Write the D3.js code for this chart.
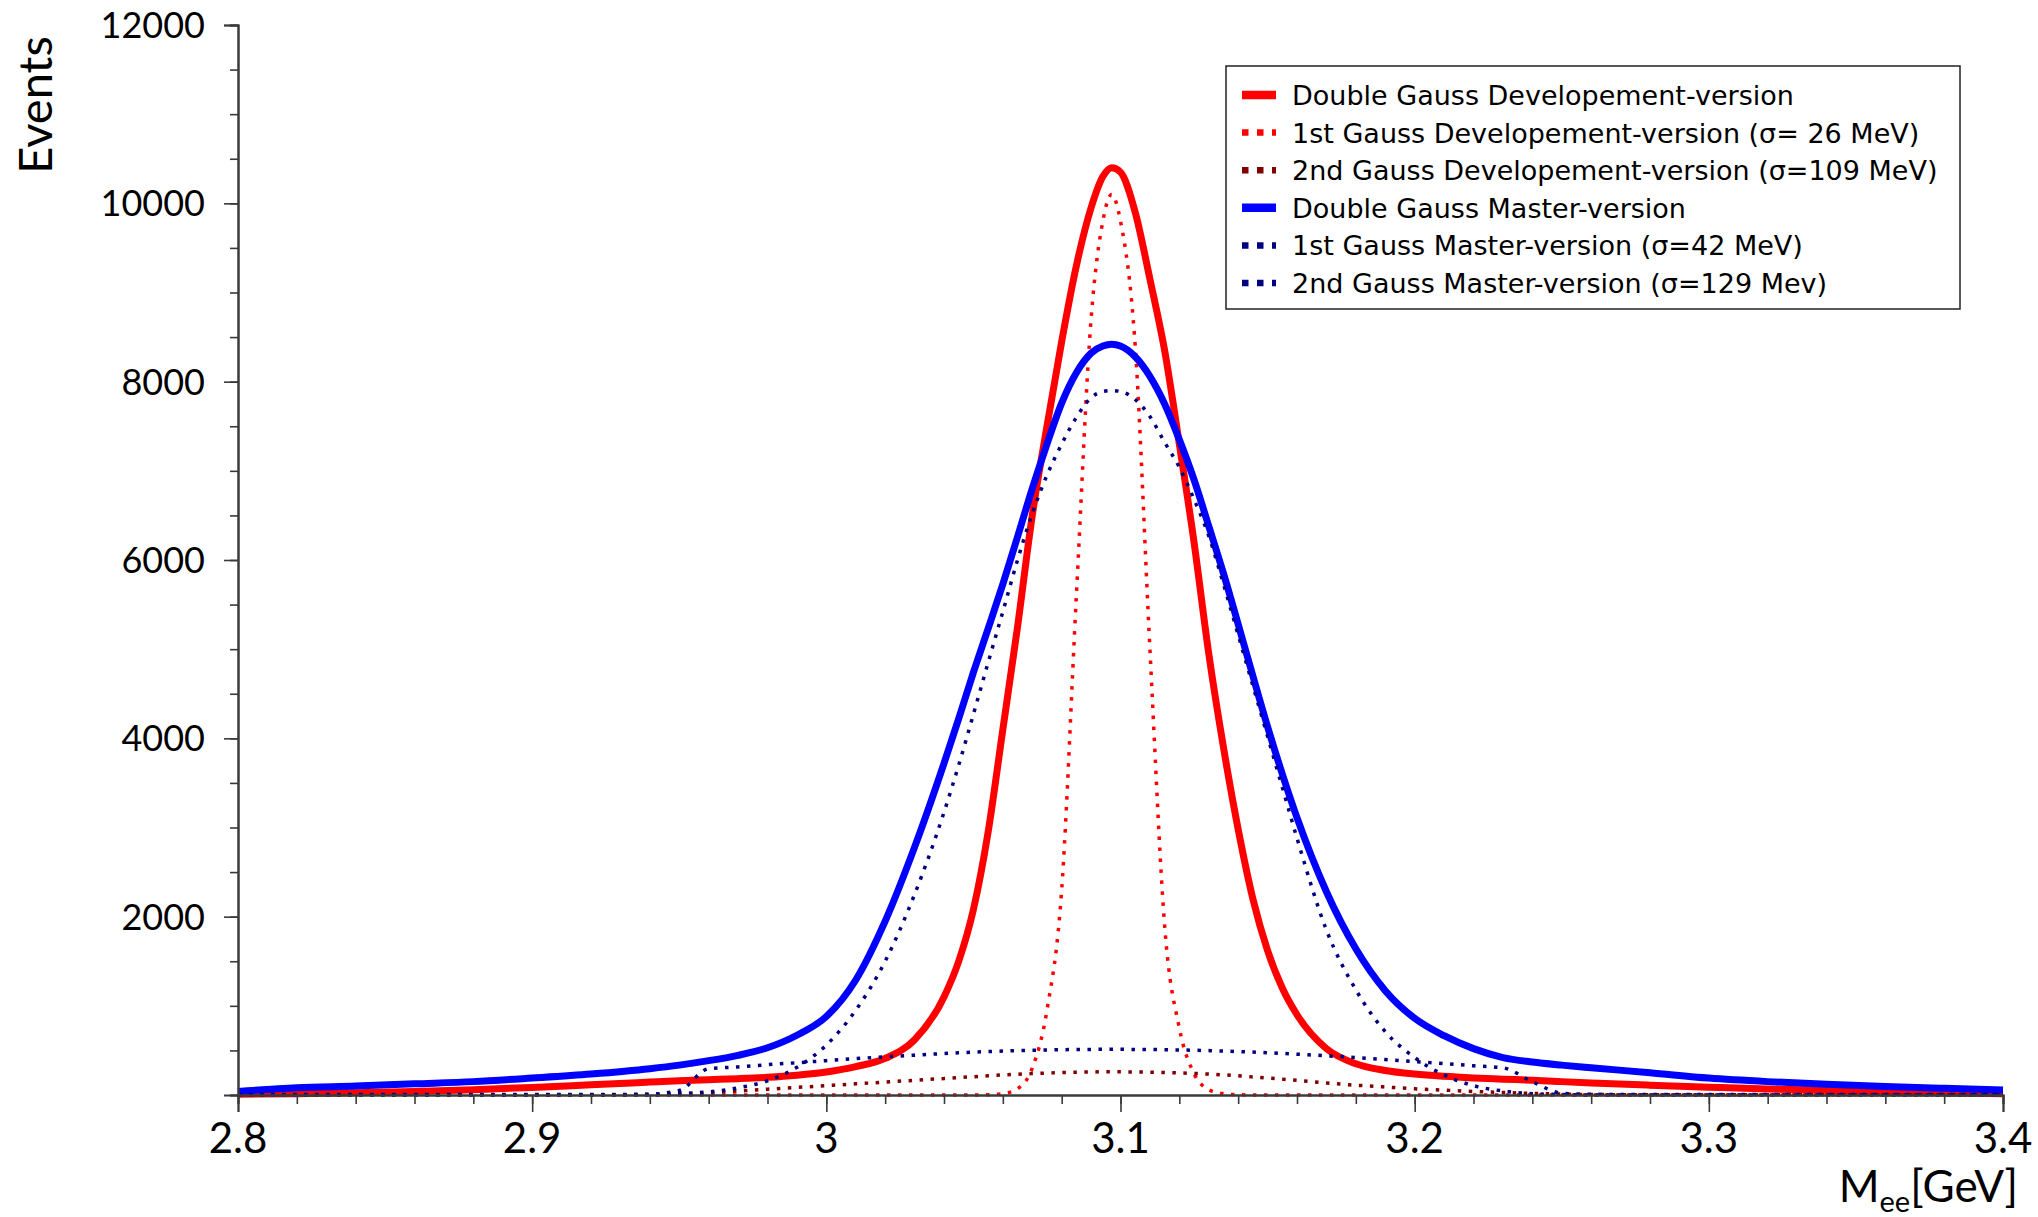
<!DOCTYPE html>
<html>
<head>
<meta charset="utf-8">
<script src="https://cdnjs.cloudflare.com/ajax/libs/d3/7.8.5/d3.min.js"></script>
<style>
  body { margin: 0; background: #fff; }
  svg { display: block; }
  .tick-label { font-family: Lato, "Open Sans", sans-serif; fill: #000; }
  .legend-text { font-family: "DejaVu Sans", Verdana, sans-serif; fill: #000; }
</style>
</head>
<body>
<svg id="chart"></svg>
<script>
// data (M_ee in GeV, events)
var mass = [2.80, 2.82, 2.84, 2.86, 2.88, 2.90, 2.92, 2.94, 2.95, 2.96, 2.97, 2.98, 2.99,
  3.00, 3.01, 3.02, 3.03, 3.04, 3.045, 3.05, 3.055, 3.06, 3.065, 3.07, 3.075, 3.08, 3.085, 3.09,
  3.094, 3.097, 3.10, 3.105, 3.11, 3.115, 3.12, 3.125, 3.13, 3.135, 3.14, 3.145, 3.15, 3.155, 3.16,
  3.17, 3.18, 3.19, 3.20, 3.21, 3.22, 3.23, 3.24, 3.25, 3.26, 3.28, 3.30, 3.32, 3.34, 3.36, 3.38, 3.40];

var doubleDev = [8, 15, 25, 40, 60, 85, 115, 145, 160, 172, 183, 198, 222,
  258, 318, 410, 620, 1100, 1500, 2080, 2950, 4100, 5250, 6500, 7500, 8450, 9300, 9950,
  10300, 10400, 10350, 9900, 9150, 8350, 7300, 6200, 4950, 3900, 2980, 2200, 1620, 1200, 900,
  520, 350, 275, 235, 210, 192, 178, 165, 150, 135, 110, 88, 68, 52, 38, 26, 15];

var gauss1Dev = [0, 0, 0, 0, 0, 0, 0, 0, 0, 0, 0, 0, 0,
  0, 0, 0, 0, 0, 0, 0, 3, 15, 70, 300, 950, 2300, 5600, 8700,
  9800, 10100, 9800, 8400, 5000, 1900, 750, 240, 60, 15, 3, 0, 0, 0, 0,
  0, 0, 0, 0, 0, 0, 0, 0, 0, 0, 0, 0, 0, 0, 0, 0, 0];

var gauss2Dev = [3, 3, 3, 3, 3, 3, 3, 3, 10, 25, 45, 65, 85,
  105, 125, 145, 165, 185, 195, 205, 215, 225, 233, 240, 246, 252, 255, 258,
  260, 260, 260, 258, 256, 252, 248, 242, 235, 226, 215, 203, 190, 178, 165,
  135, 110, 90, 70, 55, 40, 28, 18, 10, 5, 3, 3, 3, 3, 3, 3, 3];

var doubleMaster = [40, 80, 100, 125, 150, 190, 235, 295, 335, 385, 445, 530, 670,
  880, 1290, 1950, 2780, 3720, 4220, 4740, 5230, 5730, 6260, 6800, 7300, 7760, 8100, 8320,
  8400, 8420, 8400, 8280, 8060, 7750, 7350, 6900, 6380, 5850, 5280, 4700, 4130, 3600, 3110,
  2280, 1640, 1170, 860, 665, 520, 420, 370, 335, 305, 250, 190, 150, 120, 95, 75, 56];

var gauss1Master = [0, 0, 0, 0, 0, 0, 1, 6, 15, 35, 80, 160, 310,
  560, 950, 1500, 2250, 3170, 3700, 4270, 4850, 5420, 6000, 6520, 6950, 7300, 7600, 7820,
  7890, 7900, 7890, 7800, 7610, 7320, 7040, 6680, 6270, 5730, 5160, 4590, 4020, 3450, 2880,
  1850, 1180, 710, 420, 225, 105, 45, 15, 5, 0, 0, 0, 0, 0, 0, 0, 0];

var gauss2Master = [5, 5, 5, 5, 5, 5, 5, 10, 50, 295, 315, 340, 362,
  385, 408, 428, 447, 465, 473, 480, 487, 493, 498, 502, 505, 508, 510, 511,
  512, 512, 512, 511, 510, 508, 505, 502, 498, 493, 487, 481, 474, 466, 458,
  440, 420, 398, 375, 352, 328, 305, 150, 20, 8, 5, 5, 5, 5, 5, 5, 5];

var legendLabels = [
  "Double Gauss Developement-version",
  "1st Gauss Developement-version (\u03c3= 26 MeV)",
  "2nd Gauss Developement-version (\u03c3=109 MeV)",
  "Double Gauss Master-version",
  "1st Gauss Master-version (\u03c3=42 MeV)",
  "2nd Gauss Master-version (\u03c3=129 Mev)"
];

var xTickLabels = [2.8, 2.9, 3, 3.1, 3.2, 3.3, 3.4];
var yTickLabels = [2000, 4000, 6000, 8000, 10000, 12000];


//layout conf.
var svgWidth = 2038,
    svgHeight = 1217,
    plot = {left: 238, right: 2003, top: 25, bottom: 1095};

var seriesColors = ["#ff0000", "#ff0000", "#800000", "#0000ff", "#000080", "#000080"];
var seriesDotted = [false, true, true, false, true, true];
var seriesValues = [doubleDev, gauss1Dev, gauss2Dev, doubleMaster, gauss1Master, gauss2Master];

var x = d3.scaleLinear().domain([2.8, 3.4]).range([plot.left, plot.right]);
var y = d3.scaleLinear().domain([0, 12000]).range([plot.bottom, plot.top]);

var svg = d3.select("#chart")
    .attr("width", svgWidth)
    .attr("height", svgHeight);

drawCurves();
drawAxes();
drawLegend();

function drawCurves() {
    var line = d3.line()
        .x(function(d){ return x(d[0]); })
        .y(function(d){ return y(d[1]); })
        .curve(d3.curveMonotoneX);

    var table = seriesValues.map(function(vals, i) {
        return {
            points: mass.map(function(m, j){ return [m, vals[j]]; }),
            color: seriesColors[i],
            dotted: seriesDotted[i]
        };
    });

    svg.append("g")
        .classed("curves", true)
        .selectAll("path")
        .data(table)
        .enter()
        .append("path")
        .attr("d", function(d){ return line(d.points); })
        .attr("fill", "none")
        .attr("stroke", function(d){ return d.color; })
        .attr("stroke-width", function(d){ return d.dotted ? 3.5 : 7; })
        .attr("stroke-dasharray", function(d){ return d.dotted ? "3.5,7.5" : null; })
        .attr("stroke-linejoin", "round");
}

function drawAxes() {
    var axisColor = "#3a3a3a";

    // minor ticks
    var xMinor = d3.range(0, 31).map(function(i){ return 2.8 + i*0.02; });
    var yMinor = d3.range(0, 25).map(function(i){ return i*500; });

    var xAxisMinor = svg.append("g")
        .attr("transform", "translate(0," + plot.bottom + ")")
        .call(d3.axisBottom(x).tickValues(xMinor).tickSize(9).tickFormat(""));
    var xAxisMajor = svg.append("g")
        .attr("transform", "translate(0," + plot.bottom + ")")
        .call(d3.axisBottom(x).tickValues(xTickLabels).tickSize(17).tickFormat(""));
    var yAxisMinor = svg.append("g")
        .attr("transform", "translate(" + plot.left + ",0)")
        .call(d3.axisLeft(y).tickValues(yMinor).tickSize(8).tickFormat(""));
    var yAxisMajor = svg.append("g")
        .attr("transform", "translate(" + plot.left + ",0)")
        .call(d3.axisLeft(y).tickValues(yTickLabels).tickSize(14).tickFormat(""));

    [xAxisMinor, xAxisMajor, yAxisMinor, yAxisMajor].forEach(function(g) {
        g.selectAll(".domain").attr("stroke", axisColor).attr("stroke-width", 2);
        g.selectAll(".tick line").attr("stroke", axisColor).attr("stroke-width", 1.6);
    });

    svg.append("g")
        .selectAll("text")
        .data(xTickLabels)
        .enter()
        .append("text")
        .classed("tick-label", true)
        .attr("x", function(d){ return x(d); })
        .attr("y", 1153)
        .attr("text-anchor", "middle")
        .style("font-size", "42px")
        .text(function(d){ return d; });

    svg.append("g")
        .selectAll("text")
        .data(yTickLabels)
        .enter()
        .append("text")
        .classed("tick-label", true)
        .attr("x", 205)
        .attr("y", function(d){ return y(d) + 13; })
        .attr("text-anchor", "end")
        .style("font-size", "36px")
        .text(function(d){ return d; });

    svg.append("text")
        .classed("tick-label", true)
        .attr("transform", "translate(52,105) rotate(-90)")
        .attr("text-anchor", "middle")
        .style("font-size", "47px")
        .text("Events");

    var xTitle = svg.append("text")
        .classed("tick-label", true)
        .attr("x", 2018)
        .attr("y", 1202)
        .attr("text-anchor", "end")
        .style("font-size", "44px");
    xTitle.append("tspan").text("M");
    xTitle.append("tspan").attr("dy", 10).style("font-size", "29px").text("ee");
    xTitle.append("tspan").attr("dy", -10).text("[GeV]");
}

function drawLegend() {
    var box = {x: 1226, y: 66, w: 734, h: 243},
        rowTop = 95,
        rowStep = 37.6;

    var legend = svg.append("g").classed("legend", true);

    legend.append("rect")
        .attr("x", box.x)
        .attr("y", box.y)
        .attr("width", box.w)
        .attr("height", box.h)
        .attr("fill", "#fff")
        .attr("stroke", "#222")
        .attr("stroke-width", 1.5);

    var rows = legend.selectAll(".row")
        .data(legendLabels)
        .enter()
        .append("g")
        .classed("row", true)
        .attr("transform", function(d, i){ return "translate(0," + (rowTop + i*rowStep) + ")"; });

    rows.append("line")
        .attr("x1", 1242)
        .attr("x2", 1276)
        .attr("stroke", function(d, i){ return seriesColors[i]; })
        .attr("stroke-width", function(d, i){ return seriesDotted[i] ? 6.5 : 8.5; })
        .attr("stroke-dasharray", function(d, i){ return seriesDotted[i] ? "6.5,8.5" : null; });

    rows.append("text")
        .classed("legend-text", true)
        .attr("x", 1292)
        .attr("y", 10)
        .style("font-size", "27px")
        .text(function(d){ return d; });
}
</script>
</body>
</html>
